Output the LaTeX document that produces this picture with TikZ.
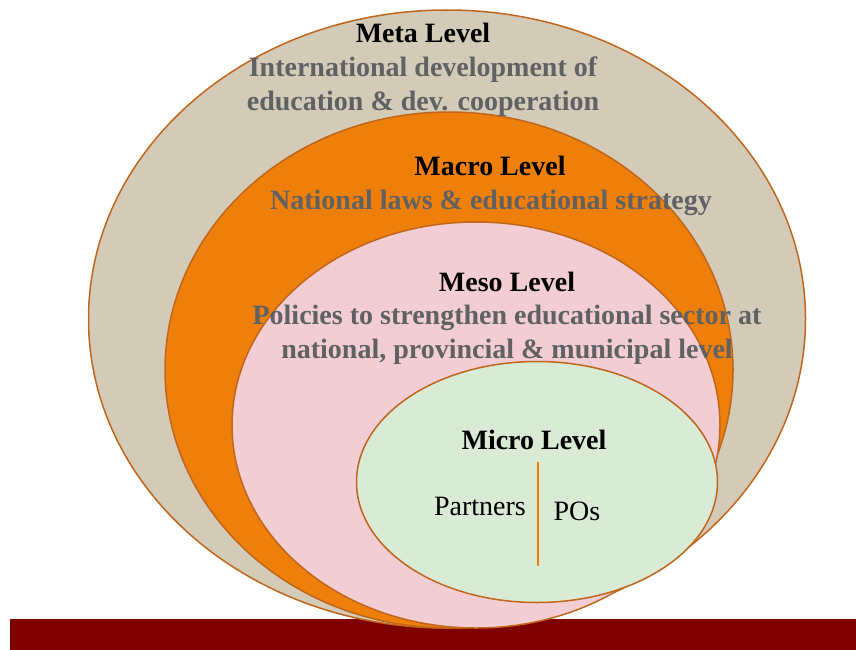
\documentclass[tikz,border=0pt]{standalone}
\usepackage{fontspec}
\setmainfont{Liberation Serif}
\usepackage{tikz}
\usetikzlibrary{shapes.geometric,positioning}
\definecolor{metafill}{HTML}{D3CBB8}
\definecolor{macrofill}{HTML}{EE7F0A}
\definecolor{mesofill}{HTML}{F2CED4}
\definecolor{microfill}{HTML}{D9EAD5}
\definecolor{rim}{HTML}{C0661C}
\definecolor{basebar}{HTML}{7F0000}
\definecolor{desc}{HTML}{606163}

\begin{document}
\begin{tikzpicture}[x=1pt,y=-1pt,
    level/.style={ellipse,draw=rim,line width=1.5pt,inner sep=0pt},
    title/.style={font=\fontsize{28}{33}\selectfont\bfseries,text=black},
    note/.style={font=\fontsize{28}{34}\selectfont\bfseries,text=desc,align=center},
    side/.style={font=\fontsize{28}{33}\selectfont,text=black}]
        \useasboundingbox (0,0) rectangle (856,650);
        \fill[basebar] (10,619) rectangle (856,650);

        % nested levels
        \node[level,fill=metafill,minimum width=717,minimum height=618] (meta) at (447,319) {};
        \node[level,fill=macrofill,minimum width=568,minimum height=516] (macro) at (449,370) {};
        \node[level,fill=mesofill,minimum width=488,minimum height=406] (meso) at (476,425) {};
        \node[level,fill=microfill,minimum width=361,minimum height=241] (micro) at (537,482) {};

        \node[title] (meta_t) at (423,33) {Meta Level};
        \node[note] (meta_d) at (423,87) {International development of\\education \& dev. cooperation};
        \node[title] (macro_t) at (490,166) {Macro Level};
        \node[note] (macro_d) at (491,202.5) {National laws \& educational strategy};
        \node[title] (meso_t) at (507,282) {Meso Level};
        \node[note] (meso_d) at (507,335) {Policies to strengthen educational sector at\\national, provincial \& municipal level};
        \node[title] (micro_t) at (534,440) {Micro Level};

        \coordinate (cut_top) at (538,462);
        \coordinate (cut_bot) at (538,566);
        \draw[macrofill,line width=1.5pt] (cut_top) -- (cut_bot);
        \node[side] (partners) at (480,506) {Partners};
        \node[side] (pos) at (577,511) {POs};
      \end{tikzpicture}
\end{document}
